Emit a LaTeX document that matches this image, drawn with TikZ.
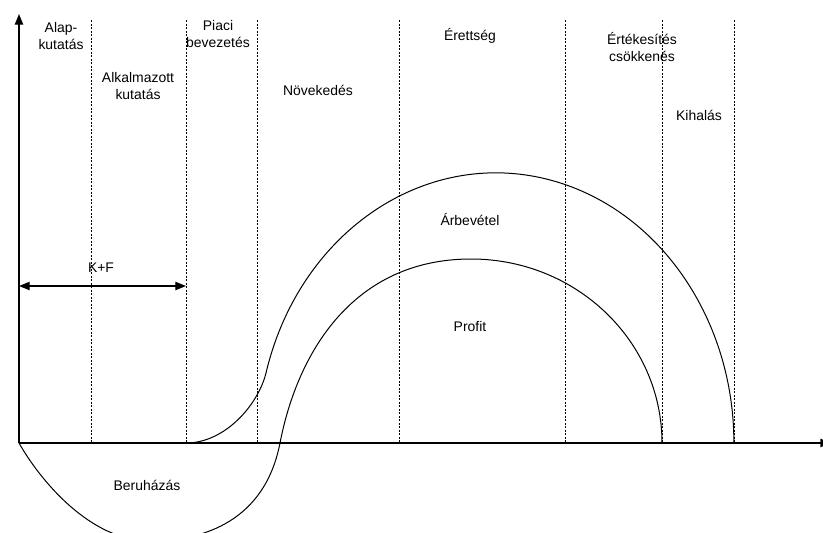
\documentclass[tikz,border=0pt]{standalone}
\usepackage{fontspec}
\setmainfont{Liberation Sans}
\usetikzlibrary{arrows.meta}

\begin{document}
\begin{tikzpicture}[x=0.3mm,y=-0.3mm,
    >={Triangle[length=3.2mm,width=2.5mm]},
    phase/.style={black,line width=0.3mm,dash pattern=on 0.6mm off 0.45mm},
    curve/.style={black,line width=0.3mm},
    lbl/.style={align=center,inner sep=0pt,font=\fontsize{11.9}{14.5}\selectfont}]
        \useasboundingbox (0,0) rectangle (823,532);
        \clip (0,0) rectangle (823,532);
        \fill[white] (0,0) rectangle (823,532);

         % axes
        \draw[->,line width=0.4mm] (19,443) -- (19,14);
        \draw[->,line width=0.4mm] (19,443) -- (831,443);

         % phase borders
        \foreach \x in {91,186,257,399,565,662,734}
          \draw[phase] (\x,20) -- (\x,443);

         % phase names
        \node[lbl] (alap) at (61,36) {Alap-\\kutatás};
        \node[lbl] (alkalmazott) at (138,86) {Alkalmazott\\kutatás};
        \node[lbl] (piaci) at (218,34) {Piaci\\bevezetés};
        \node[lbl] (novekedes) at (318,90) {Növekedés};
        \node[lbl] (erettseg) at (470,36) {Érettség};
        \node[lbl] (ertekesites) at (642,47) {Értékesítés\\csökkenés};
        \node[lbl] (kihalas) at (699,115) {Kihalás};

         % K+F
        \node[lbl] (kf) at (101,268) {K+F};
        \draw[<->,line width=0.35mm] (19,286) -- (186,286);

         % Beruházás, Profit
        \draw[curve] (19,443) .. controls (40,480) and (90,541) .. (150,541)
          .. controls (205,541) and (265,520) .. (280,443)
          .. controls (298,350) and (355,259) .. (471,259)
          arc[start angle=270,end angle=360,x radius=191,y radius=184];
        \node[lbl] (beruhazas) at (147,485) {Beruházás};
        \node[lbl] (profit) at (470,327) {Profit};

         % Árbevétel
        \draw[curve] (186,443) .. controls (225,443) and (258,405) .. (266,373)
          arc[start angle=195,end angle=360,x radius=238,y radius=270];
        \node[lbl] (arbevetel) at (470,220) {Árbevétel};
      \end{tikzpicture}
\end{document}
